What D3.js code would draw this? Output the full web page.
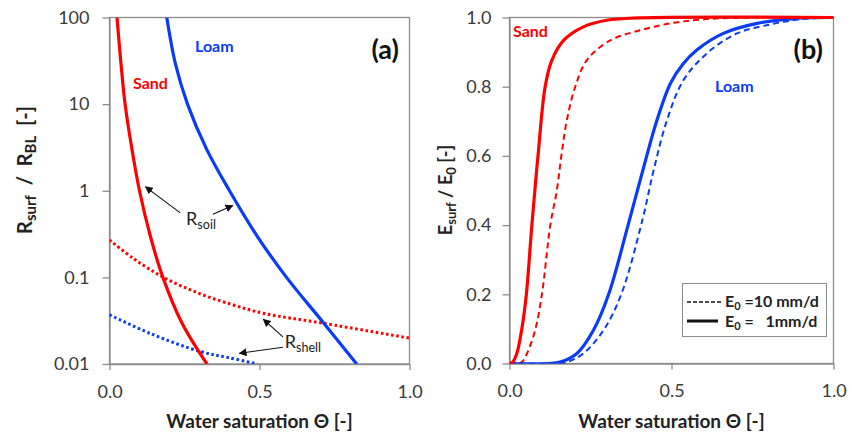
<!DOCTYPE html>
<html><head><meta charset="utf-8">
<script src="https://cdn.jsdelivr.net/npm/d3@7"></script>
<style>
html,body{margin:0;padding:0;background:#fff;}
text{font-family:Lato,"Open Sans",sans-serif;}
</style></head>
<body><svg id="c" width="852" height="435"></svg>
<script>
// ---------- DATA ----------
// Panel (a): resistance ratio R/R_BL vs water saturation
const sandSoil  = [[0.025,100],[0.038,30],[0.052,10],[0.075,3],[0.10,1],[0.136,0.3],[0.178,0.1],[0.241,0.03],[0.325,0.01]];
const loamSoil  = [[0.191,100],[0.219,30],[0.26,10],[0.324,3],[0.40,1],[0.492,0.3],[0.59,0.1],[0.713,0.03],[0.824,0.01]];
const sandShell = [[0,0.27],[0.08,0.165],[0.18,0.1],[0.30,0.065],[0.413,0.048],[0.513,0.0385],[0.714,0.0295],[1.0,0.0199]];
const loamShell = [[0,0.037],[0.136,0.0225],[0.30,0.014],[0.40,0.0118],[0.493,0.01]];
const aYTicks = [0.01,0.1,1,10,100];
const aYLabels = ["0.01","0.1","1","10","100"];
// Panel (b): relative evaporation E_surf/E0 vs water saturation
const sandE1  = [[0,0],[0.01,0.004],[0.023,0.03],[0.038,0.1],[0.052,0.2],[0.069,0.4],[0.081,0.53],[0.088,0.6],[0.11,0.8],[0.131,0.877],[0.167,0.934],[0.228,0.973],[0.30,0.992],[0.4,0.999],[1,1]];
const sandE10 = [[0,0],[0.02,0],[0.038,0.004],[0.054,0.029],[0.079,0.096],[0.10,0.2],[0.126,0.4],[0.146,0.5],[0.16,0.6],[0.177,0.703],[0.203,0.8],[0.239,0.877],[0.311,0.934],[0.403,0.963],[0.496,0.983],[0.6,0.995],[0.75,1],[1,1]];
const loamE1  = [[0,0],[0.12,0],[0.156,0.004],[0.208,0.029],[0.259,0.096],[0.306,0.2],[0.366,0.4],[0.412,0.56],[0.455,0.703],[0.497,0.81],[0.535,0.865],[0.578,0.906],[0.66,0.954],[0.764,0.983],[0.88,0.997],[1,1]];
const loamE10 = [[0,0],[0.14,0],[0.177,0.004],[0.228,0.029],[0.29,0.096],[0.345,0.2],[0.41,0.414],[0.445,0.559],[0.486,0.703],[0.537,0.819],[0.609,0.896],[0.702,0.954],[0.805,0.98],[0.9,0.995],[1,1]];
const bYTicks = [0,0.2,0.4,0.6,0.8,1.0];
const xTicks = [0,0.5,1.0];
const xLabels = ["0.0","0.5","1.0"];
// annotations (data units of panel a)
const soilArrows  = [[[0.236,0.556],[0.12,1.11]],[[0.345,0.537],[0.411,0.676]]];
const shellArrows = [[[0.578,0.0206],[0.513,0.0328]],[[0.578,0.0156],[0.433,0.0133]]];

// ---------- DRAW ----------
const RED="#ff0000", BLUE="#0a3cf5", AX="#8c8c8c", TXT="#3a3a3a";
const svg=d3.select("#c");
svg.append("rect").attr("width",852).attr("height",435).attr("fill","#fff");
const defs=svg.append("defs");
defs.append("marker").attr("id","arr").attr("viewBox","0 0 10 10").attr("refX",9).attr("refY",5)
  .attr("markerWidth",8).attr("markerHeight",8).attr("orient","auto-start-reverse").attr("markerUnits","userSpaceOnUse")
  .append("path").attr("d","M0,0L10,5L0,10z").attr("fill","#111");

function panel(id,x0,x1,y0,y1){
  defs.append("clipPath").attr("id",id).append("rect").attr("x",x0).attr("y",y0).attr("width",x1-x0).attr("height",y1-y0);
  return svg.append("g");
}
function styleAxis(g){
  g.selectAll("path,line").attr("stroke",AX).attr("stroke-width",1.3);
  g.selectAll("text").attr("fill",TXT).attr("font-size",18).attr("font-family","Lato,sans-serif");
}
const smooth=d3.curveCatmullRom.alpha(0.5);

// Panel (a)
const xa=d3.scaleLinear().domain([0,1]).range([109.5,409.5]);
const ya=d3.scaleLog().domain([0.01,100]).range([364,17.5]);
const ga=panel("clipA",109.5,409.5,17.5,364);
ga.append("rect").attr("x",109.5).attr("y",17.5).attr("width",300).attr("height",346.5).attr("fill","none").attr("stroke",AX).attr("stroke-width",1.3);
const axA=ga.append("g").attr("transform","translate(109.5,0)").call(d3.axisLeft(ya).tickValues(aYTicks).tickFormat((d,i)=>aYLabels[i]).tickSize(7).tickSizeOuter(0).tickPadding(13));
styleAxis(axA);
const axAx=ga.append("g").attr("transform","translate(0,364)").call(d3.axisBottom(xa).tickValues(xTicks).tickFormat((d,i)=>xLabels[i]).tickSize(6).tickSizeOuter(0).tickPadding(15));
styleAxis(axAx);
const lineA=d3.line().x(d=>xa(d[0])).y(d=>ya(d[1])).curve(smooth);
const cA=ga.append("g").attr("clip-path","url(#clipA)");
cA.append("path").datum(sandShell).attr("d",lineA).attr("fill","none").attr("stroke",RED).attr("stroke-width",3).attr("stroke-dasharray","2.6,2.6");
cA.append("path").datum(loamShell).attr("d",lineA).attr("fill","none").attr("stroke",BLUE).attr("stroke-width",3).attr("stroke-dasharray","2.6,2.6");
cA.append("path").datum(sandSoil).attr("d",lineA).attr("fill","none").attr("stroke",RED).attr("stroke-width",3.2);
cA.append("path").datum(loamSoil).attr("d",lineA).attr("fill","none").attr("stroke",BLUE).attr("stroke-width",3.2);
[...soilArrows,...shellArrows].forEach(a=>{
  ga.append("line").attr("x1",xa(a[0][0])).attr("y1",ya(a[0][1])).attr("x2",xa(a[1][0])).attr("y2",ya(a[1][1]))
    .attr("stroke","#111").attr("stroke-width",1.1).attr("marker-end","url(#arr)");
});
function subLabel(g,x,y,main,sub,size,col,weight){
  const t=g.append("text").attr("x",x).attr("y",y).attr("fill",col).attr("font-size",size).attr("font-weight",weight||400);
  t.append("tspan").text(main);
  t.append("tspan").attr("font-size",size*0.7).attr("dy",size*0.22).text(sub);
  return t;
}
subLabel(ga,xa(0.255),ya(0.40),"R","soil",18,"#222");
subLabel(ga,xa(0.584),ya(0.0153),"R","shell",18,"#222");
ga.append("text").attr("x",133).attr("y",89).attr("fill",RED).attr("font-size",16).attr("font-weight",700).text("Sand");
ga.append("text").attr("x",195).attr("y",52).attr("fill",BLUE).attr("font-size",16).attr("font-weight",700).text("Loam");
ga.append("text").attr("x",399).attr("y",59).attr("text-anchor","end").attr("fill","#111").attr("font-size",27).attr("font-weight",700).text("(a)");
ga.append("text").attr("x",259.5).attr("y",428).attr("text-anchor","middle").attr("fill","#222").attr("font-size",19).attr("font-weight",700).text("Water saturation Θ [-]");
{
  const t=ga.append("text").attr("transform","translate(32,170) rotate(-90)").attr("text-anchor","middle").attr("fill","#222").attr("font-size",20).attr("font-weight",700).style("white-space","pre");
  t.append("tspan").text("R");
  t.append("tspan").attr("font-size",15).attr("dy",4).text("surf");
  t.append("tspan").attr("dy",-4).text("  /  R");
  t.append("tspan").attr("font-size",15).attr("dy",4).text("BL");
  t.append("tspan").attr("dy",-4).text("  [-]");
}

// Panel (b)
const xb=d3.scaleLinear().domain([0,1]).range([509.5,833.5]);
const yb=d3.scaleLinear().domain([0,1]).range([363.5,17.5]);
const gb=panel("clipB",509.5,833.5,15,363.5);
gb.append("rect").attr("x",509.5).attr("y",17.5).attr("width",324).attr("height",346).attr("fill","none").attr("stroke",AX).attr("stroke-width",1.3);
const axB=gb.append("g").attr("transform","translate(509.5,0)").call(d3.axisLeft(yb).tickValues(bYTicks).tickFormat(d3.format(".1f")).tickSize(7).tickSizeOuter(0).tickPadding(11));
styleAxis(axB);
const axBx=gb.append("g").attr("transform","translate(0,363.5)").call(d3.axisBottom(xb).tickValues(xTicks).tickFormat((d,i)=>xLabels[i]).tickSize(6).tickSizeOuter(0).tickPadding(15));
styleAxis(axBx);
const lineB=d3.line().x(d=>xb(d[0])).y(d=>yb(d[1])).curve(smooth);
const cB=gb.append("g").attr("clip-path","url(#clipB)");
cB.append("path").datum(loamE10).attr("d",lineB).attr("fill","none").attr("stroke",BLUE).attr("stroke-width",2).attr("stroke-dasharray","6,4");
cB.append("path").datum(sandE10).attr("d",lineB).attr("fill","none").attr("stroke",RED).attr("stroke-width",2).attr("stroke-dasharray","6,4");
cB.append("path").datum(loamE1).attr("d",lineB).attr("fill","none").attr("stroke",BLUE).attr("stroke-width",3.2);
cB.append("path").datum(sandE1).attr("d",lineB).attr("fill","none").attr("stroke",RED).attr("stroke-width",3.2);
gb.append("text").attr("x",513).attr("y",37).attr("fill",RED).attr("font-size",16).attr("font-weight",700).text("Sand");
gb.append("text").attr("x",715).attr("y",92).attr("fill",BLUE).attr("font-size",16).attr("font-weight",700).text("Loam");
gb.append("text").attr("x",823).attr("y",59).attr("text-anchor","end").attr("fill","#111").attr("font-size",27).attr("font-weight",700).text("(b)");
gb.append("text").attr("x",671.5).attr("y",428).attr("text-anchor","middle").attr("fill","#222").attr("font-size",19).attr("font-weight",700).text("Water saturation Θ [-]");
{
  const t=gb.append("text").attr("transform","translate(452,190) rotate(-90)").attr("text-anchor","middle").attr("fill","#222").attr("font-size",18).attr("font-weight",700);
  t.append("tspan").text("E");
  t.append("tspan").attr("font-size",13).attr("dy",4).text("surf");
  t.append("tspan").attr("dy",-4).text(" / E");
  t.append("tspan").attr("font-size",13).attr("dy",4).text("0");
  t.append("tspan").attr("dy",-4).text(" [-]");
}
// legend
const lg=gb.append("g");
lg.append("rect").attr("x",682.5).attr("y",283.5).attr("width",144).attr("height",53).attr("fill","#fff").attr("stroke",AX).attr("stroke-width",1);
lg.append("line").attr("x1",687).attr("x2",722).attr("y1",302).attr("y2",302).attr("stroke","#111").attr("stroke-width",1.5).attr("stroke-dasharray","4,2");
lg.append("line").attr("x1",687).attr("x2",718).attr("y1",321).attr("y2",321).attr("stroke","#111").attr("stroke-width",3);
function legText(y,rest){
  const t=lg.append("text").attr("x",725).attr("y",y).attr("fill","#222").attr("font-size",16).attr("font-weight",700).style("white-space","pre");
  t.append("tspan").text("E");
  t.append("tspan").attr("font-size",11).attr("dy",3).text("0");
  t.append("tspan").attr("dy",-3).text(rest);
}
legText(307," =10 mm/d");
legText(327," =   1mm/d");
</script></body></html>
